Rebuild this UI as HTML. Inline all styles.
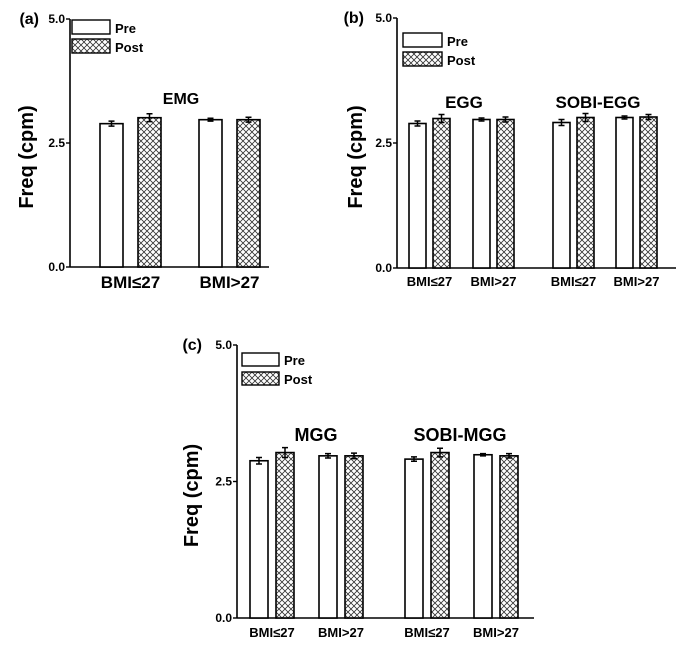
<!DOCTYPE html>
<html><head><meta charset="utf-8"><style>
html,body{margin:0;padding:0;background:#fff;}
svg{display:block;font-family:"Liberation Sans",Arial,sans-serif;font-weight:bold;}
</style></head><body>
<svg id="c" width="688" height="658" viewBox="0 0 688 658">
<defs>
<pattern id="hatch" width="6" height="6" patternUnits="userSpaceOnUse">
<rect width="6" height="6" fill="#fff"/>
<path d="M0,0 L6,6 M6,0 L0,6" stroke="#333" stroke-width="0.8"/>
</pattern>
</defs>
</svg>
<script>
// Panel (a) EMG
const aCategories = ["BMI≤27","BMI>27"];
const aPre = [2.89, 2.97];
const aPreErr = [0.05, 0.03];
const aPost = [3.01, 2.97];
const aPostErr = [0.08, 0.05];
// Panel (b) EGG / SOBI-EGG
const bCategories = ["BMI≤27","BMI>27","BMI≤27","BMI>27"];
const bPre = [2.89, 2.97, 2.91, 3.01];
const bPreErr = [0.05, 0.03, 0.06, 0.03];
const bPost = [2.99, 2.97, 3.01, 3.02];
const bPostErr = [0.08, 0.05, 0.08, 0.05];
// Panel (c) MGG / SOBI-MGG
const cCategories = ["BMI≤27","BMI>27","BMI≤27","BMI>27"];
const cPre = [2.88, 2.97, 2.91, 2.99];
const cPreErr = [0.06, 0.04, 0.04, 0.02];
const cPost = [3.03, 2.97, 3.03, 2.97];
const cPostErr = [0.09, 0.05, 0.08, 0.04];
const yTicks = [0, 2.5, 5];
const yTickLabels = ["0.0","2.5","5.0"];

const svg = document.getElementById('c');
const NS = 'http://www.w3.org/2000/svg';
function mk(tag, attrs, parent, text){
  const e = document.createElementNS(NS, tag);
  for (const k in attrs) e.setAttribute(k, attrs[k]);
  if (text !== undefined) e.textContent = text;
  (parent||svg).appendChild(e);
  return e;
}

function panel(cfg){
  const g = mk('g', {});
  
  
  const y = v => cfg.y0 + (cfg.y5 - cfg.y0) * v / 5;
  const ya = mk('line', {x1:cfg.ax, y1:cfg.y5, x2:cfg.ax, y2:cfg.y0, stroke:'#000', 'stroke-width':1.6}, g);
  
  
  const xa = mk('line', {x1:cfg.ax, y1:cfg.y0, x2:cfg.xEnd, y2:cfg.y0, stroke:'#000', 'stroke-width':1.6}, g);
  
  
  yTicks.forEach((t, i) => {
    const tk = mk('line', {x1:cfg.ax-4, y1:y(t), x2:cfg.ax, y2:y(t), stroke:'#000', 'stroke-width':1.4}, g);
    
    
    const tl = mk('text', {x:cfg.ax-5, y:y(t)+4, 'text-anchor':'end', 'font-size':12}, g, yTickLabels[i]);
    
    
  });
  const yt = mk('text', {x:0, y:0, 'text-anchor':'middle', 'font-size':20, transform:`translate(${cfg.titleX},${(cfg.y0+cfg.y5)/2+14}) rotate(-90)`}, g, 'Freq (cpm)');
  
  
  const pl = mk('text', {x:cfg.labelX, y:cfg.y5+5, 'font-size':16, 'text-anchor':'end'}, g, cfg.label);
  
  
  function bar(x, v, e, post){
    const r = mk('rect', {x:x, y:y(v), width:cfg.bw, height:cfg.y0-y(v), fill: post ? 'url(#hatch)' : '#fff', stroke:'#000', 'stroke-width':1.6}, g);
    
    
    const cx = x + cfg.bw/2;
    const eb = mk('path', {d:`M${cx},${y(v+e)} V${y(v-e)} M${cx-3},${y(v+e)} H${cx+3} M${cx-3},${y(v-e)} H${cx+3}`, stroke:'#000', 'stroke-width':1.5, fill:'none'}, g);
    
    
  }
  cfg.cats.forEach((c, i) => {
    bar(cfg.preX[i], cfg.pre[i], cfg.preErr[i], false);
    bar(cfg.preX[i] + cfg.gap, cfg.post[i], cfg.postErr[i], true);
    const cl = mk('text', {x:cfg.preX[i] + (cfg.gap+cfg.bw)/2, y:cfg.catY, 'text-anchor':'middle', 'font-size':cfg.catFs}, g, c);
    
    
  });
  cfg.groups.forEach(gr => {
    const t = mk('text', {x:gr[1], y:cfg.groupY, 'text-anchor':'middle', 'font-size':cfg.groupFs}, g, gr[0]);
    
    
  });
  const L = cfg.leg;
  const r1 = mk('rect', {x:L.x, y:L.y, width:L.w, height:L.h, fill:'#fff', stroke:'#000', 'stroke-width':1.4}, g);
  
  
  const t1 = mk('text', {x:L.x+L.w+5, y:L.y+L.h-1, 'font-size':13}, g, 'Pre');
  
  
  const r2 = mk('rect', {x:L.x, y:L.y+L.dy, width:L.w, height:L.h, fill:'url(#hatch)', stroke:'#000', 'stroke-width':1.4}, g);
  
  
  const t2 = mk('text', {x:L.x+L.w+5, y:L.y+L.dy+L.h-1, 'font-size':13}, g, 'Post');
  
  
}

panel({id:'a', label:'(a)', labelX:39, ax:70, y0:267, y5:19, xEnd:269, titleX:33, bw:23, gap:38,
  cats:aCategories, pre:aPre, preErr:aPreErr, post:aPost, postErr:aPostErr,
  preX:[100,199], catY:288, catFs:17, groups:[['EMG',181]], groupY:104, groupFs:16,
  leg:{x:72, y:20, w:38, h:14, dy:19}});
panel({id:'b', label:'(b)', labelX:364, ax:397, y0:268, y5:18, xEnd:676, titleX:362, bw:17, gap:24,
  cats:bCategories, pre:bPre, preErr:bPreErr, post:bPost, postErr:bPostErr,
  preX:[409,473,553,616], catY:286, catFs:13, groups:[['EGG',464],['SOBI-EGG',598]], groupY:108, groupFs:17,
  leg:{x:403, y:33, w:39, h:14, dy:19}});
panel({id:'c', label:'(c)', labelX:202, ax:237, y0:618, y5:345, xEnd:534, titleX:198, bw:18, gap:26,
  cats:cCategories, pre:cPre, preErr:cPreErr, post:cPost, postErr:cPostErr,
  preX:[250,319,405,474], catY:637, catFs:13, groups:[['MGG',316],['SOBI-MGG',460]], groupY:441, groupFs:18,
  leg:{x:242, y:353, w:37, h:13, dy:19}});
</script>
</body></html>
